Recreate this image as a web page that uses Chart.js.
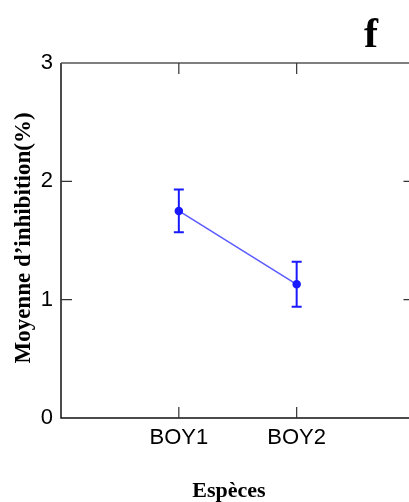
<!DOCTYPE html>
<html>
<head>
<meta charset="utf-8">
<script src="https://cdn.jsdelivr.net/npm/chart.js@4"></script>
<style>
  html, body { margin: 0; padding: 0; background: #fff; overflow: hidden; }
  #wrap { width: 420px; height: 502px; }
</style>
</head>
<body>
<div id="wrap"><canvas id="chart" width="420" height="502"></canvas></div>
<script>
// data
const species = ['BOY1', 'BOY2'];
const means = [1.75, 1.13];
const errLow = [1.57, 0.94];
const errHigh = [1.93, 1.32];
const yTicks = [0, 1, 2, 3];

const yTitle = 'Moyenne d\u2019inhibition(%)';
const xTitle = 'Espèces';
const panelLabel = 'f';

const blue = '#1a1aff';

// error bars (mean +/- error) drawn through the scales
const errorBars = {
	id: 'errorBars',
	afterDatasetsDraw(chart) {
		const c = chart.ctx;
		const xs = chart.scales.x, ys = chart.scales.y;
		c.save();
		c.strokeStyle = blue;
		c.lineWidth = 2;
		species.forEach((s, i) => {
			const px = xs.getPixelForValue(i + 1);
			const top = ys.getPixelForValue(errHigh[i]);
			const bot = ys.getPixelForValue(errLow[i]);
			c.beginPath();
			c.moveTo(px, top); c.lineTo(px, bot);
			c.moveTo(px - 5, top); c.lineTo(px + 5, top);
			c.moveTo(px - 5, bot); c.lineTo(px + 5, bot);
			c.stroke();
		});
		c.restore();
	}
};

// box frame with inward ticks + titles
const frame = {
	id: 'frame',
	afterDraw(chart) {
		const c = chart.ctx;
		const a = chart.chartArea;
		const xs = chart.scales.x, ys = chart.scales.y;
		const tl = 11;
		c.save();
		c.lineWidth = 1.5;
		c.strokeStyle = '#111';
		c.beginPath();
		c.moveTo(a.left, a.top); c.lineTo(a.left, a.bottom); c.lineTo(a.right, a.bottom);
		c.stroke();
		c.strokeStyle = '#555';
		c.beginPath();
		c.moveTo(a.left, a.top); c.lineTo(a.right, a.top); c.lineTo(a.right, a.bottom);
		c.stroke();
		c.lineWidth = 1.2;
		c.strokeStyle = '#333';
		c.beginPath();
		species.forEach((s, i) => {
			const px = xs.getPixelForValue(i + 1);
			c.moveTo(px, a.bottom); c.lineTo(px, a.bottom - tl);
			c.moveTo(px, a.top); c.lineTo(px, a.top + tl);
		});
		yTicks.slice(1, -1).forEach(v => {
			const py = ys.getPixelForValue(v);
			c.moveTo(a.left, py); c.lineTo(a.left + tl, py);
			c.moveTo(a.right, py); c.lineTo(a.right - tl, py);
		});
		c.stroke();

		c.fillStyle = '#000';
		c.font = 'bold 22px "Liberation Serif", "Times New Roman", serif';
		c.textAlign = 'center';
		c.textBaseline = 'alphabetic';
		c.fillText(xTitle, 229, 497);
		c.save();
		c.translate(30, 238);
		c.rotate(-Math.PI / 2);
		c.font = 'bold 23px "Liberation Serif", "Times New Roman", serif';
		c.fillText(yTitle, 0, 0);
		c.restore();
		c.font = 'bold 42px "Liberation Serif", "Times New Roman", serif';
		c.fillText(panelLabel, 371, 47);
		c.restore();
	}
};

const ctx = document.getElementById('chart').getContext('2d');
const chart = new Chart(ctx, {
	type: 'line',
	data: {
		datasets: [{
			data: species.map((s, i) => ({ x: i + 1, y: means[i] })),
			borderColor: '#5a5aff',
			borderWidth: 1.5,
			pointBackgroundColor: blue,
			pointBorderColor: blue,
			pointRadius: 3.5,
			tension: 0,
		}],
	},
	options: {
		responsive: false,
		devicePixelRatio: 1,
		animation: false,
		layout: { padding: { top: 63, right: 5, bottom: 0, left: 0 } },
		plugins: { legend: { display: false }, tooltip: { enabled: false } },
		scales: {
			x: {
				type: 'linear',
				min: 0,
				max: 3,
				grid: { display: false, drawTicks: false },
				border: { display: false },
				afterBuildTicks: (s) => { s.ticks = species.map((n, i) => ({ value: i + 1 })); },
				afterFit: (s) => { s.height = 84; },
				ticks: {
					autoSkip: false,
					maxRotation: 0,
					padding: 7,
					color: '#000',
					font: { family: '"Liberation Sans", Arial, sans-serif', size: 22 },
					callback: (v) => species[v - 1] ?? '',
				},
			},
			y: {
				min: 0,
				max: 3,
				grid: { display: false, drawTicks: false },
				border: { display: false },
				afterBuildTicks: (s) => { s.ticks = yTicks.map(v => ({ value: v })); },
				afterFit: (s) => { s.width = 61; },
				ticks: {
					padding: 8,
					color: '#000',
					font: { family: '"Liberation Sans", Arial, sans-serif', size: 22 },
				},
			},
		},
	},
	plugins: [errorBars, frame],
});
</script>
</body>
</html>
